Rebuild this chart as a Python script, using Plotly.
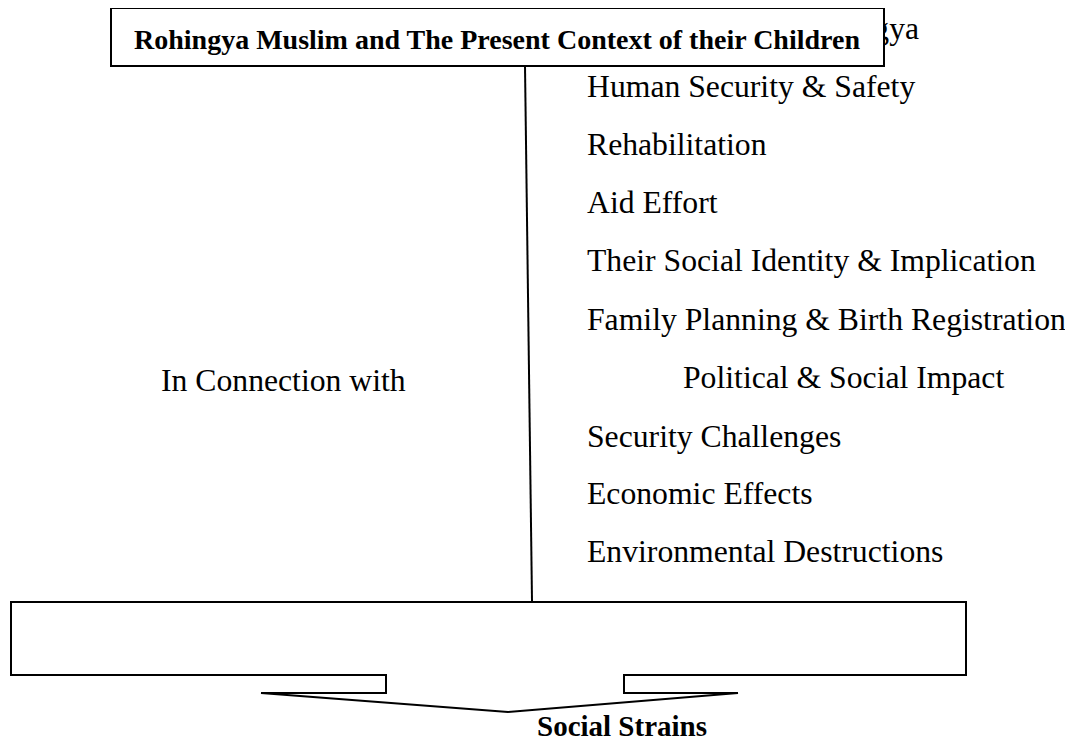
import plotly.graph_objects as go

# ---- data ----
factors = [
    "Repatriation of Rohingya",
    "Human Security & Safety",
    "Rehabilitation",
    "Aid Effort",
    "Their Social Identity & Implication",
    "Family Planning & Birth Registration",
    "Political & Social Impact",
    "Security Challenges",
    "Economic Effects",
    "Environmental Destructions",
]
factor_x = [597, 587, 587, 587, 587, 587, 683, 587, 587, 587]
factor_y = [31, 89, 147, 205, 263, 322, 380, 439, 496, 554]

title_text = "Rohingya Muslim and The Present Context of their Children"
left_label = "In Connection with"
outcome_label = "Social Strains"

SERIF = "Liberation Serif, Times New Roman, serif"

fig = go.Figure()

fig.add_trace(go.Scatter(
    x=factor_x, y=factor_y, text=factors, mode="text",
    textposition="middle right", cliponaxis=False,
    textfont=dict(family=SERIF, size=31.7, color="black"),
    hoverinfo="skip", showlegend=False,
))

shapes = [
    # title box (white, covers the first hidden item)
    dict(type="rect", x0=111, y0=8, x1=884, y1=66, layer="above",
         line=dict(color="black", width=2), fillcolor="white"),
    # connecting line
    dict(type="line", x0=525, y0=66, x1=532, y1=601, layer="above",
         line=dict(color="black", width=2)),
    # callout box with arrow
    dict(type="path", layer="above",
         path="M 11 602 L 966 602 L 966 675 L 624 675 L 624 693 L 738 693 "
              "L 508 712 L 261 693 L 386 693 L 386 675 L 11 675 Z",
         line=dict(color="black", width=2), fillcolor="rgba(0,0,0,0)"),
]

annotations = [
    dict(x=497, y=39, text="<b>" + title_text + "</b>", showarrow=False,
         xanchor="center", yanchor="middle",
         font=dict(family=SERIF, size=28, color="black")),
    dict(x=159, y=380, text=left_label, showarrow=False,
         xanchor="left", yanchor="middle",
         font=dict(family=SERIF, size=31.7, color="black")),
    dict(x=622, y=726, text="<b>" + outcome_label + "</b>", showarrow=False,
         xanchor="center", yanchor="middle",
         font=dict(family=SERIF, size=29, color="black")),
]

# the page body has an 8px margin; size and range the figure so that
# axis units equal page pixels
fig.update_layout(
    width=1065, height=732,
    margin=dict(l=0, r=0, t=0, b=0),
    paper_bgcolor="white", plot_bgcolor="white",
    xaxis=dict(range=[8, 1073], visible=False, fixedrange=True),
    yaxis=dict(range=[740, 8], visible=False, fixedrange=True),
    shapes=shapes, annotations=annotations,
)

fig.write_html("out.html", config={"displayModeBar": False})
